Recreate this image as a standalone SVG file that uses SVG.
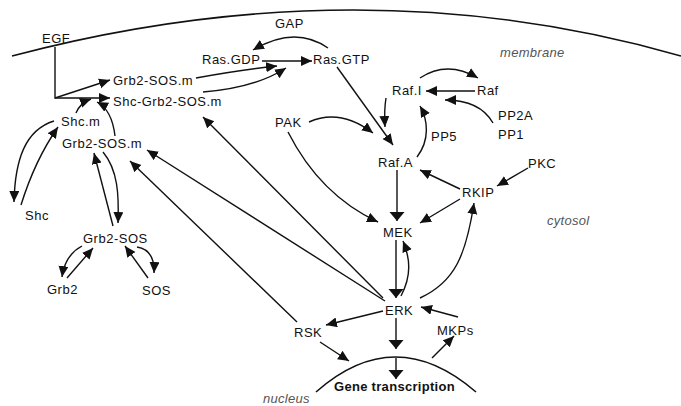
<svg xmlns="http://www.w3.org/2000/svg" width="681" height="406" viewBox="0 0 681 406">
<style>
.lbl{font-family:"Liberation Sans",Arial,sans-serif;font-size:13px;letter-spacing:0.5px;fill:#111}
.cmp{font-family:"Liberation Sans",Arial,sans-serif;font-size:13px;font-style:italic;fill:#555;letter-spacing:0.3px}
.bold{font-weight:bold;letter-spacing:0.3px}
.c{fill:none;stroke:#111;stroke-width:1.4}
.a{marker-end:url(#ah)}
.w{marker-end:url(#wh)}
.mem{fill:none;stroke:#111;stroke-width:1.6}
</style>
<defs>
<marker id="ah" markerUnits="userSpaceOnUse" markerWidth="12" markerHeight="11" refX="11" refY="5" orient="auto"><path d="M0,0 L11,5 L0,10 z" fill="#111"/></marker>
<marker id="wh" markerUnits="userSpaceOnUse" markerWidth="10" markerHeight="16" refX="9" refY="7.5" orient="auto"><path d="M0,0 L9,7.5 L0,15 z" fill="#111"/></marker>
</defs>
<rect width="681" height="406" fill="#fff"/>
<g id="compartments">
<path class="mem" d="M12,56 Q360,-36 681,56"/>
<path class="mem" d="M316,392 Q395,322 476,392"/>
<text class="cmp" x="500" y="57">membrane</text>
<text class="cmp" x="547" y="225">cytosol</text>
<text class="cmp" x="263" y="403">nucleus</text>
</g>
<g id="connectors">
<path class="c a" d="M55,47 L55,98 L110,98"/>
<path class="c a" d="M55,98 L110,80"/>
<path class="c a" d="M196,78 Q240,70 277,66"/>
<path class="c a" d="M203,92 Q255,88 286,68"/>
<path class="c a" d="M262,61 L312,61"/>
<path class="c a" d="M328,48 Q295,25 253,50"/>
<path class="c a" d="M337,67 L393,145"/>
<path class="c a" d="M309,122 Q340,108 373,133"/>
<path class="c a" d="M288,132 Q320,195 378,222"/>
<path class="c a" d="M386,98 Q384,110 385,127"/>
<path class="c a" d="M475,91 L426,91"/>
<path class="c a" d="M420,78 Q447,60 478,78"/>
<path class="c a" d="M493,123 Q480,100 445,100"/>
<path class="c a" d="M417,157 C430,140 428,120 420,106"/>
<path class="c w" d="M397,170 L397,221"/>
<path class="c a" d="M460,189 L420,170"/>
<path class="c a" d="M460,199 L420,223"/>
<path class="c a" d="M528,168 L497,186"/>
<path class="c w" d="M396,240 L396,298"/>
<path class="c a" d="M401,296 C412,275 410,258 403,241"/>
<path class="c a" d="M420,298 C455,282 466,255 474,203"/>
<path class="c a" d="M458,317 L421,307"/>
<path class="c a" d="M383,311 L326,325"/>
<path class="c w" d="M396,318 L396,349"/>
<path class="c w" d="M396,358 L396,379"/>
<path class="c a" d="M320,342 L349,361"/>
<path class="c a" d="M432,358 L454,336"/>
<path class="c a" d="M383,298 L203,117"/>
<path class="c a" d="M385,301 L147,150"/>
<path class="c a" d="M297,322 L130,161"/>
<path class="c a" d="M76,113 Q80,103 91,99"/>
<path class="c a" d="M115,136 Q112,110 97,102"/>
<path class="c a" d="M54,121 C25,130 15,160 14,202"/>
<path class="c a" d="M21,205 Q35,160 58,127"/>
<path class="c a" d="M113,226 L94,153"/>
<path class="c a" d="M103,152 C118,170 119,195 118,223"/>
<path class="c a" d="M82,246 Q65,255 62,277"/>
<path class="c a" d="M67,278 L93,248"/>
<path class="c a" d="M148,278 L125,246"/>
<path class="c a" d="M137,247 Q155,250 154,273"/>
</g>
<g id="EGF"><text class="lbl" x="42" y="43">EGF</text></g>
<g id="GAP"><text class="lbl" x="275" y="28">GAP</text></g>
<g id="RasGDP"><text class="lbl" x="202" y="64">Ras.GDP</text></g>
<g id="RasGTP"><text class="lbl" x="313" y="64">Ras.GTP</text></g>
<g id="Grb2SOSm_top"><text class="lbl" x="113" y="85">Grb2-SOS.m</text></g>
<g id="ShcGrb2SOSm"><text class="lbl" x="113" y="106">Shc-Grb2-SOS.m</text></g>
<g id="RafI"><text class="lbl" x="392" y="95">Raf.I</text></g>
<g id="Raf"><text class="lbl" x="477" y="95">Raf</text></g>
<g id="PP2A"><text class="lbl" x="498" y="120">PP2A</text></g>
<g id="PP1"><text class="lbl" x="498" y="139">PP1</text></g>
<g id="PAK"><text class="lbl" x="275" y="127">PAK</text></g>
<g id="Shcm"><text class="lbl" x="61" y="126">Shc.m</text></g>
<g id="Grb2SOSm"><text class="lbl" x="62" y="148">Grb2-SOS.m</text></g>
<g id="PP5"><text class="lbl" x="431" y="141">PP5</text></g>
<g id="RafA"><text class="lbl" x="378" y="167">Raf.A</text></g>
<g id="PKC"><text class="lbl" x="528" y="168">PKC</text></g>
<g id="RKIP"><text class="lbl" x="462" y="197">RKIP</text></g>
<g id="Shc"><text class="lbl" x="25" y="220">Shc</text></g>
<g id="MEK"><text class="lbl" x="383" y="237">MEK</text></g>
<g id="Grb2SOS"><text class="lbl" x="83" y="243">Grb2-SOS</text></g>
<g id="Grb2"><text class="lbl" x="47" y="294">Grb2</text></g>
<g id="SOS"><text class="lbl" x="142" y="295">SOS</text></g>
<g id="ERK"><text class="lbl" x="385" y="315">ERK</text></g>
<g id="RSK"><text class="lbl" x="294" y="337">RSK</text></g>
<g id="MKPs"><text class="lbl" x="437" y="335">MKPs</text></g>
<g id="Gene"><text class="lbl bold" x="334" y="391">Gene transcription</text></g>
</svg>
